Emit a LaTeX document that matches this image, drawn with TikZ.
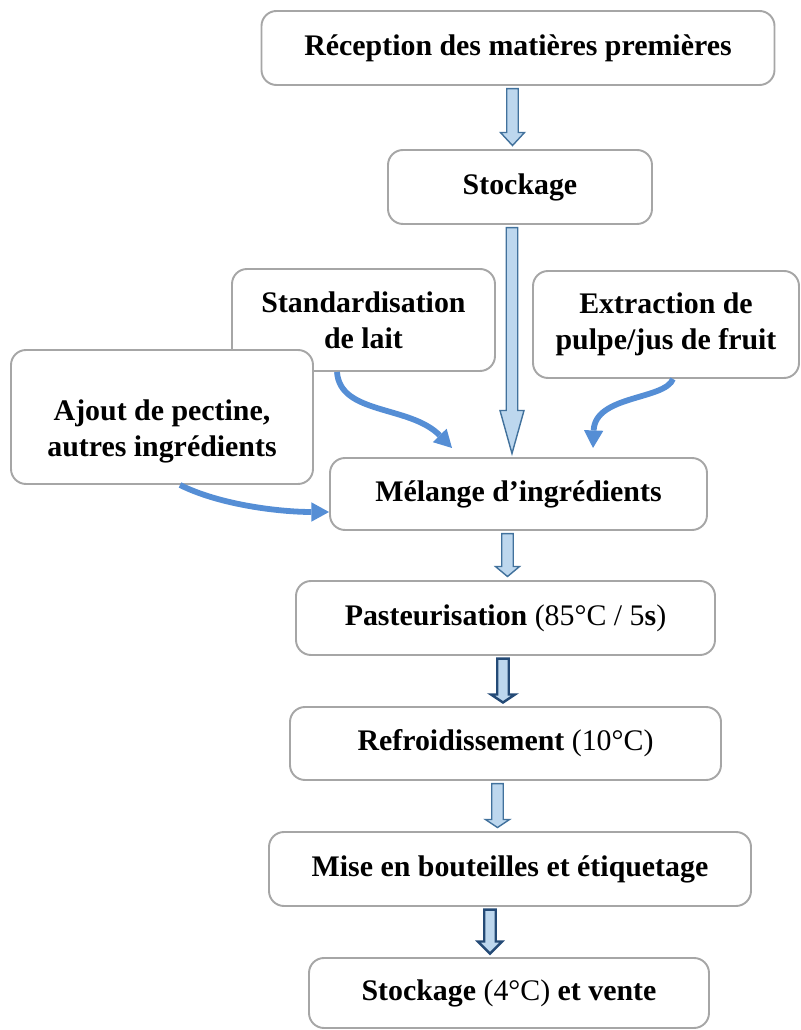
\documentclass[tikz,border=0pt]{standalone}
\usepackage{fontspec}
\setmainfont{Liberation Serif}
\usetikzlibrary{arrows.meta}
\usetikzlibrary{calc}

\definecolor{boxgray}{RGB}{166,166,166}
\definecolor{flowfill}{RGB}{189,215,238}
\definecolor{flowline}{RGB}{65,113,156}
\definecolor{flowdark}{RGB}{36,74,118}
\definecolor{curveblue}{RGB}{85,142,213}

% [extra style]{x}{from}{to}{head length}
\newcommand{\blockarrow}[5][]{%
  \draw[block arrow,#1] let \p1=(#3.south), \p2=(#4.north), \p3=(#2,0) in
    ({\x3-0.115cm},{\y1-1.5pt}) -- ({\x3+0.115cm},{\y1-1.5pt})
    -- ({\x3+0.115cm},{\y2+2pt+#5cm}) -- ({\x3+0.24cm},{\y2+2pt+#5cm})
    -- ({\x3},{\y2+2pt}) -- ({\x3-0.24cm},{\y2+2pt+#5cm})
    -- ({\x3-0.115cm},{\y2+2pt+#5cm}) -- cycle;}

\begin{document}
\begin{tikzpicture}[
            box/.style={draw=boxgray, fill=white, line width=1.1pt, rounded corners=0.3cm, align=center,
                        inner sep=0pt, font=\fontsize{17}{20.5}\selectfont\bfseries},
            block arrow/.style={draw=flowline, fill=flowfill, line width=0.8pt},
            dark arrow/.style={draw=flowdark, line width=1.4pt},
            curve arrow/.style={-{Triangle[length=10pt, width=11pt, line width=0pt]}, draw=curveblue, line width=3.3pt}
        ]
        \useasboundingbox (0,0) rectangle (16.02,20.6);

        \node[box, minimum width=10.26cm, minimum height=1.48cm] (recep) at (10.36,19.64) {Réception des matières premières};
        \node[box, minimum width=5.28cm, minimum height=1.48cm] (stock) at (10.40,16.86) {Stockage};
        \node[box, minimum width=5.26cm, minimum height=2.04cm] (stand) at (7.27,14.20) {Standardisation\\de lait};
        \node[box, minimum width=5.32cm, minimum height=2.14cm] (extr) at (13.32,14.11) {Extraction de\\pulpe/jus de fruit};
        \node[box, minimum width=6.04cm, minimum height=2.68cm] (ajout) at (3.24,12.26) {\rule{0pt}{1cm}Ajout de pectine,\\autres ingrédients};
        \node[box, minimum width=7.54cm, minimum height=1.44cm] (melange) at (10.37,10.72) {Mélange d’ingrédients};
        \node[box, minimum width=8.38cm, minimum height=1.48cm] (pasteur) at (10.11,8.24) {Pasteurisation \textmd{(85°C / 5}s\textmd{)}};
        \node[box, minimum width=8.62cm, minimum height=1.46cm] (refroid) at (10.11,5.73) {Refroidissement \textmd{(10°C)}};
        \node[box, minimum width=9.64cm, minimum height=1.48cm] (mise) at (10.20,3.22) {Mise en bouteilles et étiquetage};
        \node[box, minimum width=8.00cm, minimum height=1.40cm] (vente) at (10.18,0.74) {Stockage \textmd{(4°C)} et vente};

        % main line
        \blockarrow{10.25}{recep}{stock}{0.26}
        \blockarrow{10.24}{stock}{melange}{0.86}
        \blockarrow{10.15}{melange}{pasteur}{0.2}
        \blockarrow[dark arrow]{10.06}{pasteur}{refroid}{0.16}
        \blockarrow{9.95}{refroid}{mise}{0.16}
        \blockarrow[dark arrow]{9.80}{mise}{vente}{0.24}

        % side inputs
        \coordinate (standtip) at (9.04,11.64);
        \coordinate (extrtip) at (11.86,11.64);
        \draw[curve arrow] ([xshift=-0.53cm]stand.south) .. controls (6.8,12.3) and (8.2,12.5) .. (standtip);
        \draw[curve arrow] ([xshift=0.14cm]extr.south) .. controls (13.3,12.6) and (11.9,12.7) .. (extrtip);
        \draw[curve arrow] ([xshift=0.36cm]ajout.south) .. controls (4.4,10.5) and (5.6,10.36) .. ([yshift=-0.36cm]melange.west);
\end{tikzpicture}
\end{document}
